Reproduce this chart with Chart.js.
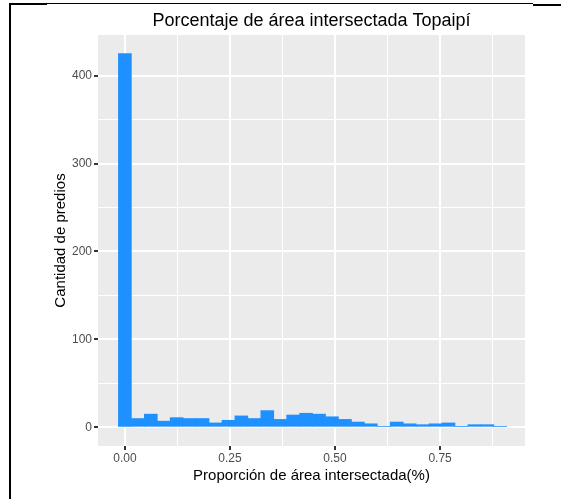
<!DOCTYPE html>
<html>
<head>
<meta charset="utf-8">
<script src="https://cdn.jsdelivr.net/npm/chart.js@4/dist/chart.umd.min.js"></script>
<style>
  html, body { margin: 0; padding: 0; background: #ffffff; }
  canvas { display: block; }
</style>
</head>
<body>
<canvas id="hist" width="561" height="499"></canvas>
<script>
// Histogram bins: midpoint of each bin (proportion) and number of properties in it
const binMids = [0.0000, 0.0308, 0.0616, 0.0924, 0.1232, 0.1540, 0.1848, 0.2156, 0.2464, 0.2772,
                 0.3080, 0.3388, 0.3696, 0.4004, 0.4312, 0.4620, 0.4928, 0.5236, 0.5544, 0.5852,
                 0.6160, 0.6468, 0.6776, 0.7084, 0.7392, 0.7700, 0.8008, 0.8316, 0.8624, 0.8932];
const counts  = [425, 10, 15, 7, 11, 10, 10, 5, 8, 13,
                 10, 19, 9, 14, 16, 15, 12, 9, 6, 4,
                 1, 6, 4, 3, 4, 5, 1, 3, 3, 1];

// Axis breaks
const xMajorTicks = [0, 0.25, 0.5, 0.75];
const xMinorTicks = [0.125, 0.375, 0.625, 0.875];
const xTickLabels = ['0.00', '0.25', '0.50', '0.75'];
const yMajorTicks = [0, 100, 200, 300, 400];
const yMinorTicks = [50, 150, 250, 350];
const yTickLabels = ['0', '100', '200', '300', '400'];

const FONT = "'Liberation Sans', Arial, Helvetica, sans-serif";
const PANEL_BG = '#EBEBEB';
const TICK_TEXT = '#4D4D4D';
const TICK_MARK = '#333333';

const isXMajor = v => xMajorTicks.some(t => Math.abs(t - v) < 1e-9);
const isYMajor = v => yMajorTicks.some(t => Math.abs(t - v) < 1e-9);

// Grey panel behind the grid, plus the page frame lines
const panelAndFrame = {
  id: 'panelAndFrame',
  beforeDraw(chart) {
    const { ctx, chartArea: a, width, height } = chart;
    ctx.save();
    ctx.fillStyle = '#ffffff';
    ctx.fillRect(0, 0, width, height);
    ctx.fillStyle = PANEL_BG;
    ctx.fillRect(a.left, a.top, a.right - a.left, a.bottom - a.top);
    ctx.restore();
  },
  afterDraw(chart) {
    const { ctx, height } = chart;
    ctx.save();
    ctx.fillStyle = '#000000';
    ctx.fillRect(9, 3, 2, height - 3);
    ctx.fillRect(9, 3, 38, 2);
    ctx.fillRect(47, 3, 486, 1);
    ctx.fillRect(533, 4, 28, 2);
    ctx.restore();
  }
};

new Chart(document.getElementById('hist'), {
  type: 'bar',
  data: {
    datasets: [{
      data: binMids.map((x, i) => ({ x: x, y: counts[i] })),
      backgroundColor: '#1E90FF',
      borderWidth: 0,
      barPercentage: 1.0,
      categoryPercentage: 1.0
    }]
  },
  options: {
    responsive: false,
    animation: false,
    devicePixelRatio: 1,
    layout: { padding: { left: 0, right: 36, top: 0, bottom: 0 } },
    plugins: {
      legend: { display: false },
      tooltip: { enabled: false },
      title: {
        display: true,
        fullSize: false,
        text: 'Porcentaje de área intersectada Topaipí',
        color: '#000000',
        font: { family: FONT, size: 18, weight: 'normal', lineHeight: 1.2 },
        padding: { top: 10, bottom: 3.4 }
      }
    },
    scales: {
      x: {
        type: 'linear',
        min: -0.064,
        max: 0.952,
        offset: false,
        afterBuildTicks(scale) {
          scale.ticks = [...xMajorTicks, ...xMinorTicks].sort((a, b) => a - b).map(v => ({ value: v }));
        },
        afterFit(scale) { scale.height = 53; },
        ticks: {
          autoSkip: false,
          maxRotation: 0,
          minRotation: 0,
          padding: 1,
          color: TICK_TEXT,
          font: { family: FONT, size: 12 },
          callback(value) {
            const i = xMajorTicks.findIndex(t => Math.abs(t - value) < 1e-9);
            return i >= 0 ? xTickLabels[i] : '';
          }
        },
        grid: {
          offset: false,
          color: '#ffffff',
          lineWidth: ctx => (isXMajor(ctx.tick.value) ? 2 : 1),
          drawTicks: true,
          tickLength: 4,
          tickWidth: 2,
          tickColor: ctx => (isXMajor(ctx.tick.value) ? TICK_MARK : 'rgba(0,0,0,0)')
        },
        border: { display: false },
        title: {
          display: true,
          text: 'Proporción de área intersectada(%)',
          color: '#000000',
          font: { family: FONT, size: 15, lineHeight: 1.2 },
          padding: { top: 0, bottom: 14.5 }
        }
      },
      y: {
        type: 'linear',
        min: -21.25,
        max: 446.25,
        afterBuildTicks(scale) {
          scale.ticks = [...yMajorTicks, ...yMinorTicks].sort((a, b) => a - b).map(v => ({ value: v }));
        },
        afterFit(scale) { scale.width = 98; },
        ticks: {
          autoSkip: false,
          padding: 2,
          color: TICK_TEXT,
          font: { family: FONT, size: 12 },
          callback(value) {
            const i = yMajorTicks.findIndex(t => Math.abs(t - value) < 1e-9);
            return i >= 0 ? yTickLabels[i] : '';
          }
        },
        grid: {
          color: '#ffffff',
          lineWidth: ctx => (isYMajor(ctx.tick.value) ? 2 : 1),
          drawTicks: true,
          tickLength: 4,
          tickWidth: 2,
          tickColor: ctx => (isYMajor(ctx.tick.value) ? TICK_MARK : 'rgba(0,0,0,0)')
        },
        border: { display: false },
        title: {
          display: true,
          text: 'Cantidad de predios',
          color: '#000000',
          font: { family: FONT, size: 15, lineHeight: 1.2 },
          padding: { top: 52, bottom: 0 }
        }
      }
    }
  },
  plugins: [panelAndFrame]
});
</script>
</body>
</html>
